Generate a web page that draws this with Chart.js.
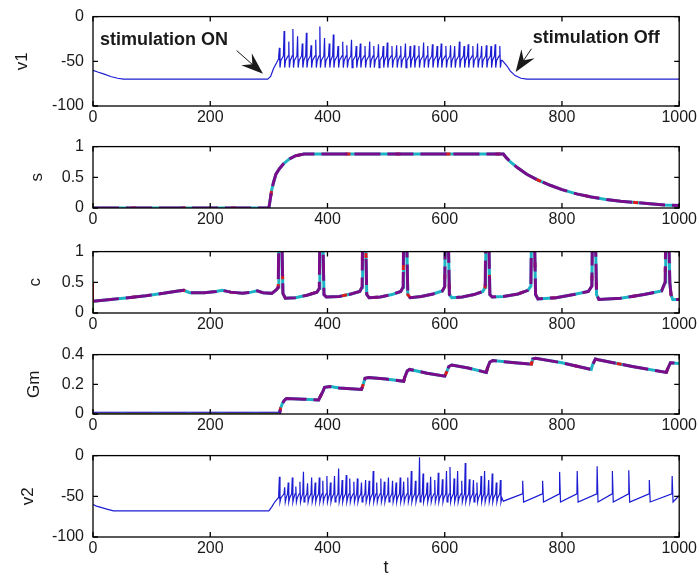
<!DOCTYPE html>
<html lang="en">
<head>
<meta charset="UTF-8">
<title>v1, s, c, Gm, v2 against t</title>
<script src="https://cdn.jsdelivr.net/npm/chart.js"></script>
<style>
  body { margin: 0; background: #fff; }
  #fig { position: relative; width: 699px; height: 577px; overflow: hidden; }
  #fig canvas { position: absolute; left: 0; }
</style>
</head>
<body>
<div id="fig"></div>
<script>
// ---- data ----
const tTicks = [0, 200, 400, 600, 800, 1000];

// v1: rest before stimulation, spike train, relaxation after
const v1Before = [[0,-60],[8,-62],[18,-64],[30,-67],[42,-69],[52,-70],[298,-70],[303,-67],[308,-58],[313,-52],[316,-48]];
const v1SpikeT = [318,326,334,341,349,357,364,372,380,387,
                  395,403,410,418,426,433,441,449,456,464,
                  472,479,487,495,502,510,518,525,533,541,
                  548,556,564,571,579,587,594,602,610,617,
                  625,633,640,648,656,663,671,679,686,694];
const v1SpikePeak = [-35,-16,-28,-14,-22,-30,-18,-32,-26,-11,
                     -24,-30,-20,-33,-28,-32,-26,-33,-30,-33,
                     -28,-33,-31,-33,-29,-33,-32,-33,-30,-33,
                     -32,-33,-29,-33,-31,-33,-30,-33,-32,-33,
                     -28,-33,-31,-33,-30,-33,-32,-33,-31,-33];
const v1After = [[698,-49],[706,-55],[712,-61],[720,-66],[730,-69],[740,-70],[1000,-70]];

// s: synaptic variable
const sPts = [[0,0],[300,0],[302,0.12],[305,0.3],[308,0.42],[312,0.55],[318,0.64],[325,0.72],[335,0.8],[345,0.85],[360,0.88],
              [700,0.88],[705,0.82],[712,0.75],[725,0.65],[740,0.55],[760,0.45],[780,0.37],[800,0.3],[825,0.23],
              [850,0.18],[875,0.14],[900,0.11],[925,0.09],[950,0.07],[975,0.05],[1000,0.04]];

// c: slow rise, then calcium-like transients
const cPts = [[0,0.19],[30,0.22],[60,0.25],[90,0.28],[120,0.32],[145,0.36],[155,0.37],[165,0.33],[190,0.33],[210,0.35],
              [220,0.37],[235,0.34],[255,0.32],[270,0.34],[280,0.36],[290,0.33],[305,0.32],[313,0.38],[316,0.42],
              [317,1.3],[322,1.3],[324,0.32],[328,0.24],[345,0.25],[365,0.29],[382,0.34],[386,0.4],
              [387,1.3],[392,1.3],[394,0.3],[398,0.26],[420,0.27],[440,0.31],[455,0.35],[459,0.42],
              [460,1.3],[465,1.3],[467,0.3],[471,0.25],[490,0.26],[510,0.3],[525,0.35],[529,0.42],
              [530,1.3],[535,1.3],[537,0.3],[541,0.25],[560,0.27],[580,0.31],[596,0.36],[600,0.43],
              [601,1.3],[606,1.3],[608,0.3],[612,0.25],[630,0.26],[650,0.3],[665,0.35],[669,0.42],
              [670,1.3],[675,1.3],[677,0.3],[681,0.26],[700,0.27],[725,0.31],[742,0.37],[747,0.44],
              [748,1.3],[753,1.3],[755,0.3],[759,0.23],[790,0.25],[820,0.3],[845,0.35],[851,0.44],
              [852,1.3],[857,1.3],[859,0.3],[863,0.22],[900,0.24],[940,0.3],[970,0.36],[976,0.5],
              [977,1.3],[982,1.3],[984,0.5],[986,0.3],[989,0.22],[1000,0.22]];
const cStartGreen = [[0,0],[0,0.17]];
const cStartRed = [[0,0.17],[0,0.5]];

// Gm: stepwise conductance
const gmPts = [[0,0],[318,0],[320,0.04],[323,0.07],[326,0.09],[330,0.105],[360,0.1],[385,0.095],[388,0.12],[392,0.15],
               [395,0.18],[405,0.185],[420,0.175],[458,0.165],[461,0.2],[464,0.24],[470,0.245],[500,0.235],[530,0.22],
               [532,0.25],[536,0.29],[540,0.3],[570,0.275],[600,0.255],[603,0.28],[607,0.32],[612,0.33],[640,0.31],
               [671,0.28],[673,0.31],[677,0.35],[682,0.36],[720,0.345],[748,0.335],[750,0.37],[755,0.375],[800,0.345],
               [850,0.3],[852,0.33],[857,0.37],[862,0.365],[920,0.32],[978,0.28],[981,0.31],[985,0.345],[1000,0.34]];
const gmRestOlive = [[0,0],[318,0]];
const gmRestBlue = [[0,0.012],[320,0.012]];

// v2: rest, dense firing during stimulation, sparse firing afterwards
const v2Before = [[0,-60],[6,-62],[15,-64],[25,-66],[35,-68],[300,-68],[305,-63],[310,-57],[316,-52]];
const v2SpikeT = [318,327,333,340,346,353,359,366,373,379,
                  386,392,399,405,412,419,425,432,438,445,
                  451,458,465,471,478,484,491,497,504,511,
                  517,524,530,537,543,550,557,563,570,576,
                  583,589,596,603,609,616,622,629,635,642,
                  649,655,662,668,675,681,688,695];
const v2SpikePeak = [-26,-39,-33,-27,-38,-32,-20,-34,-27,-33,
                     -27,-31,-25,-33,-25,-16,-30,-24,-28,-32,
                     -28,-33,-30,-31,-19,-33,-28,-32,-27,-31,
                     -33,-27,-32,-27,-19,-31,-2,-22,-33,-26,
                     -30,-21,-29,-19,-14,-28,-19,-31,-9,-29,
                     -30,-33,-25,-19,-30,-22,-33,-30];
const v2LateT = [733,767,796,826,860,886,914,949,988];
const v2LatePeak = [-31,-31,-20,-19,-13,-19,-18,-30,-25];
const v2End = [[1000,-49]];

// ---- trace assembly ----
function spikeTrain(times, peaks, onset, trough) {
  const pts = [];
  times.forEach((t, i) => {
    pts.push([t - 1.2, onset], [t, peaks[i]], [t + 1, trough], [t + 2.5, onset - 5]);
  });
  return pts;
}
function sparseTrain(times, peaks, onset, trough) {
  const pts = [];
  times.forEach((t, i) => {
    pts.push([t - 0.5, onset], [t, peaks[i]], [t + 1.5, trough]);
  });
  return pts;
}
const xy = pts => pts.map(p => ({x: p[0], y: p[1]}));

const v1Trace = v1Before.concat(spikeTrain(v1SpikeT, v1SpikePeak, -44, -57), v1After);
const v2Trace = v2Before.concat(spikeTrain(v2SpikeT, v2SpikePeak, -47, -57), [[700,-56]],
                                sparseTrain(v2LateT, v2LatePeak, -47, -57), v2End);

// ---- styling ----
const FONT = "'Liberation Sans', Arial, sans-serif";
const BLUE = '#1c1cd2';

function blueLine(pts) {
  return [{data: xy(pts), borderColor: BLUE, borderWidth: 1.2}];
}
// several overlapping cells drawn in different colours
function cellLines(pts) {
  return [
    {data: xy(pts), borderColor: '#7a0c8a', borderWidth: 3, borderDash: [26, 7]},
    {data: xy(pts), borderColor: '#de1a1a', borderWidth: 3, borderDash: [5, 45], borderDashOffset: 12},
    {data: xy(pts), borderColor: '#1cb4c4', borderWidth: 3}
  ];
}

// boxed axes with inward tick marks on all four sides
const boxAxes = {
  id: 'boxAxes',
  afterDatasetsDraw(chart) {
    const {ctx, chartArea: a, scales: {x, y}} = chart;
    const len = 5;
    ctx.save();
    ctx.strokeStyle = '#000';
    ctx.lineWidth = 1.3;
    ctx.strokeRect(a.left, a.top, a.right - a.left, a.bottom - a.top);
    ctx.beginPath();
    x.ticks.forEach(t => {
      const px = x.getPixelForValue(t.value);
      ctx.moveTo(px, a.bottom); ctx.lineTo(px, a.bottom - len);
      ctx.moveTo(px, a.top); ctx.lineTo(px, a.top + len);
    });
    y.ticks.forEach(t => {
      const py = y.getPixelForValue(t.value);
      ctx.moveTo(a.left, py); ctx.lineTo(a.left + len, py);
      ctx.moveTo(a.right, py); ctx.lineTo(a.right - len, py);
    });
    ctx.stroke();
    ctx.restore();
  }
};

// "stimulation ON / Off" labels with arrows on the top panel
function arrow(ctx, x0, y0, x1, y1) {
  const dx = x1 - x0, dy = y1 - y0, d = Math.hypot(dx, dy);
  const ux = dx / d, uy = dy / d, L = 22, W = 8;
  ctx.beginPath();
  ctx.moveTo(x0, y0);
  ctx.lineTo(x1 - ux * L * 0.6, y1 - uy * L * 0.6);
  ctx.stroke();
  ctx.beginPath();
  ctx.moveTo(x1, y1);
  ctx.lineTo(x1 - ux * L - uy * W, y1 - uy * L + ux * W);
  ctx.lineTo(x1 - ux * L * 0.65, y1 - uy * L * 0.65);
  ctx.lineTo(x1 - ux * L + uy * W, y1 - uy * L - ux * W);
  ctx.closePath();
  ctx.fill();
}
const stimLabels = {
  id: 'stimLabels',
  afterDraw(chart) {
    const {ctx, scales: {x, y}} = chart;
    ctx.save();
    ctx.fillStyle = '#1a1a1a';
    ctx.strokeStyle = '#1a1a1a';
    ctx.lineWidth = 1;
    ctx.font = 'bold 18px ' + FONT;
    ctx.textBaseline = 'alphabetic';
    ctx.fillText('stimulation ON', x.getPixelForValue(12), y.getPixelForValue(-32));
    ctx.fillText('stimulation Off', x.getPixelForValue(750), y.getPixelForValue(-30));
    arrow(ctx, x.getPixelForValue(245), y.getPixelForValue(-38), x.getPixelForValue(290), y.getPixelForValue(-64));
    arrow(ctx, x.getPixelForValue(748), y.getPixelForValue(-36), x.getPixelForValue(721), y.getPixelForValue(-62));
    ctx.restore();
  }
};

const fig = document.getElementById('fig');
const PAD_TOP = 12;

function panel(cfg) {
  const xAxisH = cfg.xTitle ? 42 : 30;
  const h = cfg.bottom - cfg.top + PAD_TOP + xAxisH;
  const canvas = document.createElement('canvas');
  canvas.width = 699;
  canvas.height = h;
  canvas.style.top = (cfg.top - PAD_TOP) + 'px';
  fig.appendChild(canvas);

  const tickFont = {family: FONT, size: 16};
  new Chart(canvas, {
    type: 'line',
    data: {datasets: cfg.datasets},
    options: {
      responsive: false,
      animation: false,
      events: [],
      layout: {padding: {top: PAD_TOP, right: 19, left: 0, bottom: 0}},
      elements: {point: {radius: 0}, line: {tension: 0}},
      plugins: {legend: {display: false}, tooltip: {enabled: false}},
      scales: {
        x: {
          type: 'linear', min: 0, max: 1000,
          afterBuildTicks: s => { s.ticks = tTicks.map(v => ({value: v})); },
          afterFit: s => { s.height = xAxisH; },
          grid: {display: false, drawTicks: false},
          border: {display: false},
          ticks: {font: tickFont, color: '#1a1a1a', padding: 2, maxRotation: 0, callback: v => String(v)},
          title: {display: !!cfg.xTitle, text: cfg.xTitle || '', font: {family: FONT, size: 18},
                  color: '#1a1a1a', padding: {top: 0, bottom: 0}}
        },
        y: {
          type: 'linear', min: cfg.yMin, max: cfg.yMax,
          afterBuildTicks: s => { s.ticks = cfg.yTicks.map(v => ({value: v})); },
          afterFit: s => { s.width = 93; },
          grid: {display: false, drawTicks: false},
          border: {display: false},
          ticks: {font: tickFont, color: '#1a1a1a', padding: 9, callback: v => String(v)},
          title: {display: true, text: cfg.yTitle, font: {family: FONT, size: 17},
                  color: '#1a1a1a', padding: {top: cfg.yTitlePad, bottom: 0}}
        }
      }
    },
    plugins: [boxAxes].concat(cfg.extra || [])
  });
}

panel({top: 10, bottom: 106, yMin: -100, yMax: 0, yTicks: [-100, -50, 0], yTitle: 'v1', yTitlePad: 12,
       datasets: blueLine(v1Trace), extra: [stimLabels]});
panel({top: 140, bottom: 208, yMin: 0, yMax: 1, yTicks: [0, 0.5, 1], yTitle: 's', yTitlePad: 27,
       datasets: cellLines(sPts)});
panel({top: 245, bottom: 313, yMin: 0, yMax: 1, yTicks: [0, 0.5, 1], yTitle: 'c', yTitlePad: 25,
       datasets: [{data: xy(cStartRed), borderColor: '#de1a1a', borderWidth: 2},
                  {data: xy(cStartGreen), borderColor: '#20c020', borderWidth: 2}].concat(cellLines(cPts))});
panel({top: 348, bottom: 414, yMin: 0, yMax: 0.4, yTicks: [0, 0.2, 0.4], yTitle: 'Gm', yTitlePad: 24,
       datasets: [{data: xy(gmRestBlue), borderColor: BLUE, borderWidth: 1},
                  {data: xy(gmRestOlive), borderColor: '#8c8a14', borderWidth: 3}].concat(cellLines(gmPts))});
panel({top: 449, bottom: 537, yMin: -100, yMax: 0, yTicks: [-100, -50, 0], yTitle: 'v2', yTitlePad: 18,
       datasets: blueLine(v2Trace), xTitle: 't'});
</script>
</body>
</html>
